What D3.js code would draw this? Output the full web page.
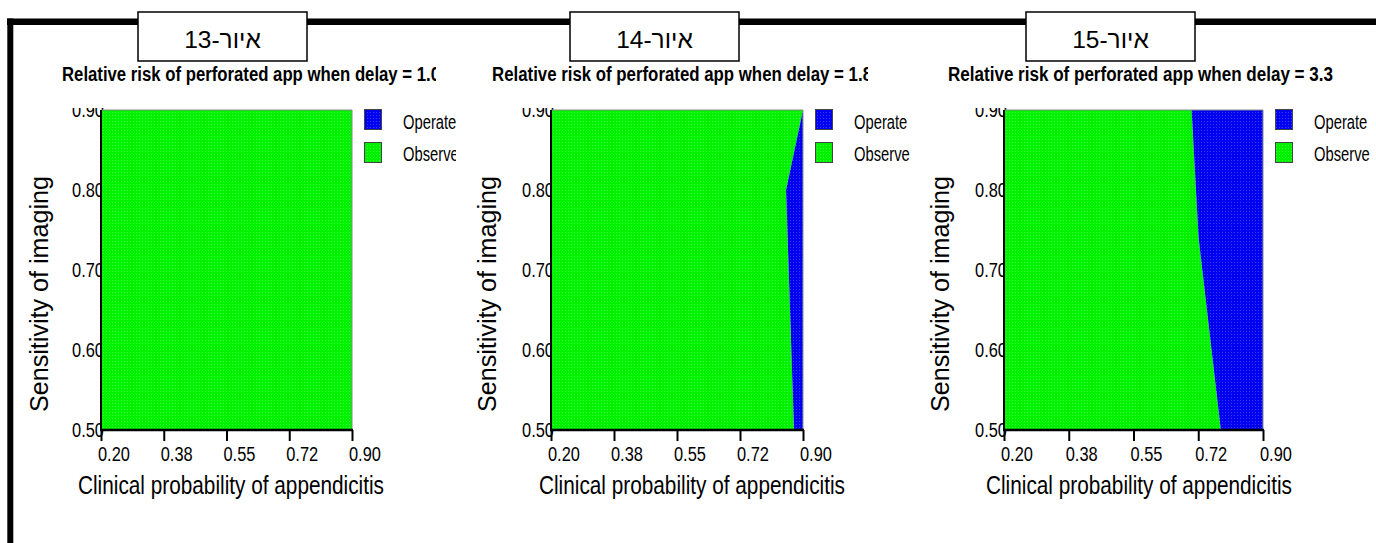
<!DOCTYPE html>
<html><head><meta charset="utf-8">
<script src="https://cdn.jsdelivr.net/npm/d3@7"></script>
<style>
body{margin:0;background:#fff;}
text{font-family:"Liberation Sans",Arial,sans-serif;fill:#000;}
</style></head>
<body><svg id="chart" width="1376" height="543"></svg>
<script>
// ---- data ----
const figureLabels = ["איור-13", "איור-14", "איור-15"];
const delays = ["1.0", "1.8", "3.3"];
const xTickValues = [0.2, 0.375, 0.55, 0.725, 0.9];
const xTickLabels = ["0.20", "0.38", "0.55", "0.72", "0.90"];
const yTickValues = [0.5, 0.6, 0.7, 0.8, 0.9];
const yTickLabels = ["0.50", "0.60", "0.70", "0.80", "0.90"];
const legendLabels = ["Operate", "Observe"];
const legendColors = ["blue", "green"];
// decision boundary: clinical probability threshold (Operate to the right) vs sensitivity
const boundarySens = [[0.5, 0.9], [0.5, 0.80, 0.9], [0.5, 0.74, 0.9]];
const boundaryProb = [[0.9, 0.9], [0.875, 0.853, 0.9], [0.786, 0.726, 0.707]];

// ---- layout ----
const layout = [
  {left:101, right:352, box:222.5, titleX:62, titleLen:378, titleClip:436, xTitle:231, yTitle:48, legendClip:456},
  {left:551, right:803, box:654.5, titleX:492, titleLen:380, titleClip:868, xTitle:692, yTitle:496, legendClip:917},
  {left:1004, right:1263, box:1110.5, titleX:948, titleLen:385, titleClip:null, xTitle:1139, yTitle:949, legendClip:null}
];
const plotTop = 110, plotBottom = 430;

const svg = d3.select("#chart");
const defs = svg.append("defs");
function pattern(id, base, dot){
  const p = defs.append("pattern").attr("id", id).attr("width", 3).attr("height", 3)
    .attr("patternUnits", "userSpaceOnUse");
  p.append("rect").attr("width", 3).attr("height", 3).attr("fill", base);
  p.append("rect").attr("x", 1).attr("y", 1).attr("width", 1).attr("height", 1).attr("fill", dot);
}
pattern("green", "#00f200", "#3cff3c");
pattern("blue", "#0000f0", "#3a3aff");

function squeeze(sel, ratio){
  sel.each(function(){
    const w = this.getComputedTextLength();
    d3.select(this).attr("textLength", w*ratio).attr("lengthAdjust", "spacingAndGlyphs");
  });
}

// outer frame
svg.append("line").attr("x1", 7).attr("x2", 1376).attr("y1", 21.7).attr("y2", 21.7)
  .attr("stroke", "#000").attr("stroke-width", 6.5);
svg.append("line").attr("x1", 10.3).attr("x2", 10.3).attr("y1", 18.5).attr("y2", 543)
  .attr("stroke", "#000").attr("stroke-width", 6);

layout.forEach((L, i) => {
  const x = d3.scaleLinear().domain([0.2, 0.9]).range([L.left, L.right]);
  const y = d3.scaleLinear().domain([0.5, 0.9]).range([plotBottom, plotTop]);
  const g = svg.append("g");

  // figure label box
  g.append("rect").attr("x", L.box - 84.5).attr("y", 12).attr("width", 169).attr("height", 49)
    .attr("fill", "#fff").attr("stroke", "#000").attr("stroke-width", 1.5);
  g.append("text").attr("x", L.box).attr("y", 48).attr("text-anchor", "middle")
    .attr("direction", "rtl").style("direction", "rtl").style("unicode-bidi", "embed")
    .attr("font-size", 24.5).text(figureLabels[i]);

  // title (clipped like the reference in the first two panels)
  const title = g.append("text")
    .attr("x", L.titleX).attr("y", 81).attr("font-size", 20).attr("font-weight", "bold")
    .attr("textLength", L.titleLen).attr("lengthAdjust", "spacingAndGlyphs")
    .text(`Relative risk of perforated app when delay = ${delays[i]}`);
  if (L.titleClip) {
    const cpT = defs.append("clipPath").attr("id", "ct" + i);
    cpT.append("rect").attr("x", L.titleX - 5).attr("y", 60).attr("width", L.titleClip - L.titleX + 5).attr("height", 30);
    title.attr("clip-path", `url(#ct${i})`);
  }

  // y tick labels (behind fill, clipped at top)
  const cpY = defs.append("clipPath").attr("id", "cy" + i);
  cpY.append("rect").attr("x", L.left - 60).attr("y", 108).attr("width", 70).attr("height", 340);
  const yl = g.append("g").attr("clip-path", `url(#cy${i})`).selectAll("text").data(yTickValues).join("text")
    .attr("x", L.left + 3).attr("y", d => y(d) + 7).attr("text-anchor", "end")
    .attr("font-size", 20.5).text((d, k) => yTickLabels[k]);
  squeeze(yl, 0.8);

  // regions
  const pts = boundarySens[i].map((s, k) => ({s: s, p: boundaryProb[i][k]}));
  const observe = d3.area().y(d => y(d.s)).x0(x(0.2)).x1(d => x(d.p));
  const operate = d3.area().y(d => y(d.s)).x0(d => x(d.p)).x1(x(0.9));
  g.append("path").attr("d", observe(pts)).attr("fill", "url(#green)");
  g.append("path").attr("d", operate(pts)).attr("fill", "url(#blue)");

  // plot frame
  g.append("path").attr("d", `M${L.left},${plotTop}H${L.right}V${plotBottom}`)
    .attr("fill", "none").attr("stroke", "#8a8a8a").attr("stroke-width", 1);
  g.append("line").attr("x1", L.left).attr("x2", L.left).attr("y1", plotTop).attr("y2", plotBottom + 1)
    .attr("stroke", "#000").attr("stroke-width", 2);

  // x axis
  const xa = g.append("g").attr("transform", `translate(0,${plotBottom})`)
    .call(d3.axisBottom(x).tickValues(xTickValues).tickSize(11).tickFormat(""));
  xa.select(".domain").attr("d", `M${L.left - 1},0H${L.right + 1}`).attr("stroke", "#000").attr("stroke-width", 2.6);
  xa.selectAll(".tick line").attr("stroke", "#000").attr("stroke-width", 2);
  const xl = g.selectAll(".xl").data(xTickValues).join("text")
    .attr("x", d => x(d) - 3).attr("y", 461).attr("font-size", 20.5)
    .text((d, k) => xTickLabels[k]);
  squeeze(xl, 0.8);

  // axis titles
  g.append("text").attr("x", L.xTitle).attr("y", 494).attr("text-anchor", "middle")
    .attr("font-size", 25.5).attr("textLength", 306).attr("lengthAdjust", "spacingAndGlyphs")
    .text("Clinical probability of appendicitis");
  g.append("text").attr("transform", `translate(${L.yTitle},294) rotate(-90)`).attr("text-anchor", "middle")
    .attr("font-size", 25).attr("textLength", 236).attr("lengthAdjust", "spacingAndGlyphs")
    .text("Sensitivity of imaging");

  // legend
  const lg = g.append("g");
  if (L.legendClip) {
    const cpL = defs.append("clipPath").attr("id", "cl" + i);
    cpL.append("rect").attr("x", L.right).attr("y", 100).attr("width", L.legendClip - L.right).attr("height", 80);
    lg.attr("clip-path", `url(#cl${i})`);
  }
  legendLabels.forEach((lab, k) => {
    lg.append("rect").attr("x", L.right + 12.5).attr("y", 109.5 + k * 33).attr("width", 17).attr("height", 20)
      .attr("fill", `url(#${legendColors[k]})`).attr("stroke", "#444").attr("stroke-width", 1);
    const t = lg.append("text").attr("x", L.right + 51).attr("y", 129 + k * 31.5)
      .attr("font-size", 20.5).text(lab);
    squeeze(t, 0.72);
  });
});
</script></body></html>
